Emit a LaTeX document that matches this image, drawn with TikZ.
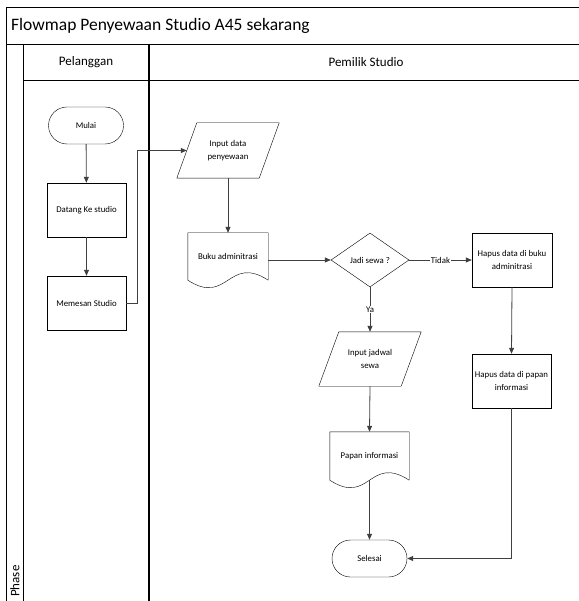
\documentclass[tikz,border=0pt]{standalone}
\usepackage{fontspec}
\setmainfont{Carlito}
\usetikzlibrary{shapes.geometric,shapes.misc,arrows.meta}
\definecolor{linegray}{HTML}{404040}
% outlines for the input and document symbols
\newcommand{\ioshape}[1]{\draw ([xshift=20pt]#1.north west) -- (#1.north east)
  -- ([xshift=-20pt]#1.south east) -- (#1.south west) -- cycle;}
\newcommand{\docshape}[1]{\draw (#1.south east) -- (#1.north east) -- (#1.north west)
  -- (#1.south west) .. controls +(40,26) and +(-40,-26) .. (#1.south east);}
\begin{document}
\begin{tikzpicture}[x=1pt,y=-1pt,
  every node/.style={align=center,inner sep=2pt,font=\fontsize{8.8}{13}\selectfont},
  proc/.style={draw,minimum width=79pt,minimum height=54pt},
  term/.style={draw,rounded rectangle,minimum width=79pt,minimum height=37pt},
  inout/.style={minimum width=102pt,minimum height=55pt},
  docnode/.style={minimum width=80pt,minimum height=47pt},
  dec/.style={draw,diamond,aspect=1.44,inner sep=0pt,minimum width=78pt,minimum height=54pt},
  arr/.style={draw=linegray,line width=0.8pt,-{Triangle[length=6pt,width=5pt]}},
  lbl/.style={fill=white,inner sep=1pt},
  lane/.style={line width=0.9pt}]
\useasboundingbox (0,0) rectangle (578,601);
% swimlane frame
\draw[lane] (590,7) -- (6,7) -- (6,610);
\draw[lane] (6,44) -- (590,44);
\draw[lane] (23,44) -- (23,610);
\draw[lane] (23,80) -- (590,80);
\draw[line width=1.6pt] (149,44) -- (149,610);
\node[anchor=west,font=\fontsize{17.5}{20}\selectfont] (title) at (9,26)
  {Flowmap Penyewaan Studio A45 sekarang};
\node[font=\fontsize{13}{15}\selectfont] (pel) at (86,62) {Pelanggan};
\node[font=\fontsize{13}{15}\selectfont] (pem) at (366,62) {Pemilik Studio};
\node[rotate=90,anchor=west,font=\fontsize{13}{15}\selectfont] (phase) at (15,599) {Phase};
% Pelanggan
\node[term] (mulai) at (86,125.5) {Mulai};
\node[proc] (datang) at (86.5,210) {Datang Ke studio};
\node[proc] (memesan) at (86.5,303) {Memesan Studio};
% Pemilik Studio
\node[inout] (inpdata) at (228,150.5) {Input data\\penyewaan};
\ioshape{inpdata}
\node[docnode] (buku) at (228,256.5) {Buku adminitrasi};
\docshape{buku}
\node[dec] (jadi) at (370,260) {Jadi sewa ?};
\node[proc,minimum width=80pt] (hapusbuku) at (512,260) {Hapus data di buku\\adminitrasi};
\node[inout,minimum height=54pt] (inpjadwal) at (370,359) {Input jadwal\\sewa};
\ioshape{inpjadwal}
\node[proc] (hapuspapan) at (511.5,381) {Hapus data di papan\\informasi};
\node[docnode,minimum width=79pt,minimum height=48pt] (papan) at (369.5,456) {Papan informasi};
\docshape{papan}
\node[term] (selesai) at (369.5,558.5) {Selesai};
% connectors
\draw[arr] (mulai) -- (datang);
\draw[arr] (datang) -- (memesan);
\draw[arr] (memesan.east) -- ++(11,0) |- ([xshift=10pt]inpdata.west);
\draw[arr] (inpdata.south) -- (buku.north);
\draw[arr] (buku.east |- jadi.west) -- (jadi.west);
\draw[arr] (jadi.east) -- node[lbl] {Tidak} (hapusbuku.west);
\draw[arr] (jadi.south) -- node[lbl] {Ya} (inpjadwal.north);
\draw[arr] (inpjadwal.south) -- (papan.north);
\draw[arr] (papan.south) -- (selesai.north);
\draw[arr] (hapusbuku.south) -- (hapuspapan.north);
\draw[arr] (hapuspapan.south) |- (selesai.east);
\end{tikzpicture}
\end{document}
